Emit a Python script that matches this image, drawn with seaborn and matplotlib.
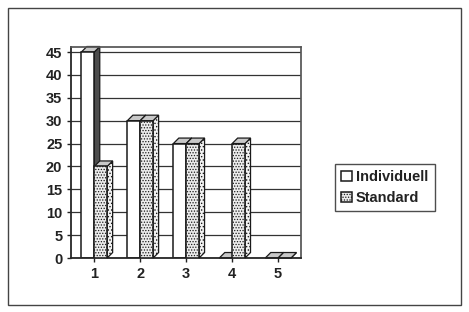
import matplotlib
matplotlib.use("Agg")
import matplotlib.pyplot as plt
from matplotlib.patches import Polygon, Rectangle
from matplotlib.transforms import IdentityTransform
import pandas as pd
import seaborn as sns

# ── data ──────────────────────────────────────────────────────────────────────
categories  = ["1", "2", "3", "4", "5"]
individuell = [45, 30, 25, 0, 0]
standard    = [20, 30, 25, 25, 0]
series      = ["Individuell", "Standard"]

df = pd.DataFrame({
    "cat":   categories * 2,
    "value": individuell + standard,
    "serie": [series[0]] * 5 + [series[1]] * 5,
})

sns.set_theme(style="white")
plt.rcParams["font.family"] = ["Liberation Sans", "DejaVu Sans"]
plt.rcParams["font.weight"] = "bold"
plt.rcParams["hatch.color"] = "#8a8a8a"
plt.rcParams["hatch.linewidth"] = 0.6

fig = plt.figure(figsize=(4.69, 3.12), dpi=100)
ax = fig.add_axes([0.152, 0.173, 0.49, 0.675])

sns.barplot(data=df, x="cat", y="value", hue="serie", order=categories,
            palette=["white", "#ececec"], edgecolor="#1a1a1a", linewidth=1.1,
            width=0.56, gap=0, ax=ax, legend=True)

ax.set_ylim(0, 46)
ax.set_yticks(range(0, 46, 5))
ax.set_xlabel("")
ax.set_ylabel("")
ax.yaxis.grid(True, color="#333333", linewidth=0.9)
ax.set_axisbelow(True)
for side in ["top", "right"]:
    ax.spines[side].set_color("#555555")
ax.spines["left"].set_linewidth(1.3)
ax.spines["bottom"].set_linewidth(1.3)
ax.tick_params(axis="both", length=3, width=1, color="#222222", labelsize=10.5,
               labelcolor="#222222", direction="out", left=True, bottom=True)

# stipple the Standard bars, stack front faces
n = len(categories)
bars = [p for p in ax.patches if isinstance(p, Rectangle) and p.get_width() > 0][:2 * n]
for i, b in enumerate(bars):
    if i >= n:
        b.set_hatch("......")
        b.set_zorder(4)
    else:
        b.set_zorder(2)

# fake 3D depth: side and top faces from each bar's own geometry
fig.canvas.draw()
dx, dy = 5.5, 5.5
for i, b in enumerate(bars):
    x, w, h = b.get_x(), b.get_width(), b.get_height()
    (x0, y0), (x1, y1) = ax.transData.transform([(x, 0), (x + w, h)])
    side_col = "#4d4d4d" if i < n else "#f2f2f2"
    z = 1.9 if i < n else 3.9
    side = Polygon([(x1, y0), (x1 + dx, y0 + dy), (x1 + dx, y1 + dy), (x1, y1)],
                   closed=True, facecolor=side_col, edgecolor="#1a1a1a",
                   linewidth=0.9, transform=IdentityTransform(), zorder=z,
                   hatch="....." if i >= n else None, clip_on=False)
    top = Polygon([(x0, y1), (x0 + dx, y1 + dy), (x1 + dx, y1 + dy), (x1, y1)],
                  closed=True, facecolor="#c8c8c8", edgecolor="#1a1a1a",
                  linewidth=0.9, transform=IdentityTransform(), zorder=z,
                  clip_on=False)
    ax.add_artist(side)
    ax.add_artist(top)

handles, labels = ax.get_legend_handles_labels()
leg = ax.legend(handles, labels, loc="center left", bbox_to_anchor=(1.115, 0.335),
                frameon=True, fancybox=False, fontsize=10.5, handlelength=0.7,
                handleheight=0.7, handletextpad=0.3, borderpad=0.45,
                labelspacing=0.45, edgecolor="#222222")
leg.get_frame().set_linewidth(1.0)
for t in leg.get_texts():
    t.set_color("#222222")
leg.legend_handles[1].set_hatch("......")

# outer frame around the whole chart
fig.patches.append(Rectangle((0.017, 0.022), 0.966, 0.953, transform=fig.transFigure,
                             fill=False, edgecolor="#444444", linewidth=1.0))

fig.savefig("out.png", dpi=100)
